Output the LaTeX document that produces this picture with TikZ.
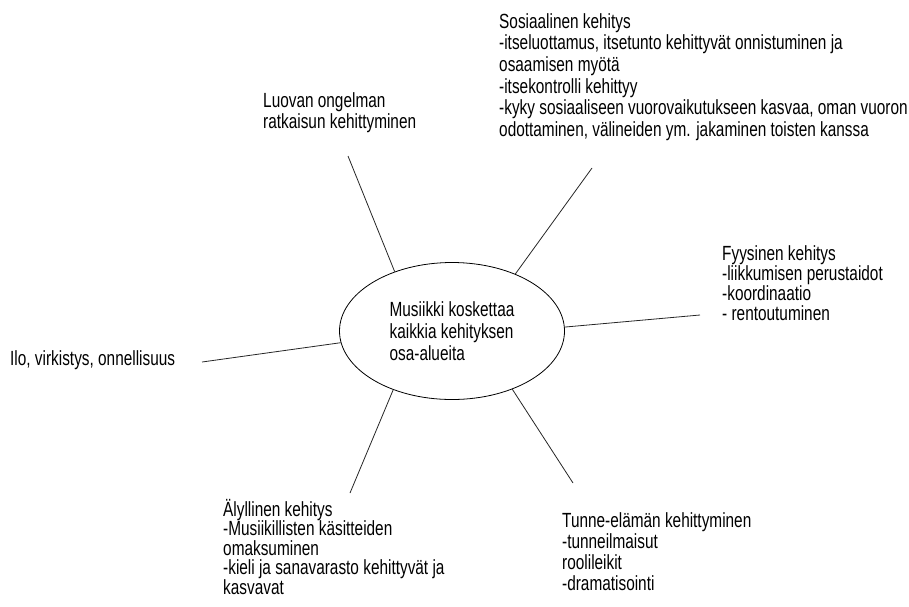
\documentclass[tikz,border=0pt]{standalone}
\usepackage{fontspec}
\setmainfont{Liberation Sans}[FakeStretch=0.75]
\usetikzlibrary{shapes.geometric}

\tikzset{
	txt/.style={anchor=base west, align=left, inner sep=0pt, font=\fontsize{20.5}{21}\selectfont},
	spoke/.style={line width=.8pt, black!85}
}

\begin{document}
\begin{tikzpicture}[x=1pt,y=-1pt]
	\useasboundingbox (0,0) rectangle (909,606);
	
	\node[draw, line width=.8pt, ellipse, minimum width=225pt, minimum height=137pt, align=left, inner sep=0pt, font=\fontsize{20.5}{22}\selectfont] (musiikki) at (452,331) {Musiikki koskettaa\\kaikkia kehityksen\\osa-alueita};
	
	\node[txt] (luova) at (263,128) {Luovan ongelman\\ratkaisun kehittyminen};
	\node[txt, font=\fontsize{20.5}{21.7}\selectfont] (sosiaalinen) at (499,136.5) {Sosiaalinen kehitys\\-itseluottamus, itsetunto kehittyvät onnistuminen ja\\osaamisen myötä\\-itsekontrolli kehittyy\\-kyky sosiaaliseen vuorovaikutukseen kasvaa, oman vuoron\\odottaminen, välineiden ym. jakaminen toisten kanssa};
	\node[txt, font=\fontsize{20.5}{20}\selectfont] (fyysinen) at (722,320) {Fyysinen kehitys\\-liikkumisen perustaidot\\-koordinaatio\\- rentoutuminen};
	\node[txt] (ilo) at (10,365) {Ilo, virkistys, onnellisuus};
	\node[txt, font=\fontsize{20.5}{19.5}\selectfont] (alyllinen) at (223,594) {Älyllinen kehitys\\-Musiikillisten käsitteiden\\omaksuminen\\-kieli ja sanavarasto kehittyvät ja\\kasvavat};
	\node[txt] (tunne) at (562,590) {Tunne-elämän kehittyminen\\-tunneilmaisut\\roolileikit\\-dramatisointi};
	
	\coordinate (luovaend) at (348,156);
	\coordinate (sosend) at (592,168);
	\coordinate (fyysend) at (700,315);
	\coordinate (iloend) at (202,362);
	\coordinate (alyend) at (350,493);
	\coordinate (tunneend) at (573,483);
	
	\draw[spoke] (musiikki.134)--(luovaend);
	\draw[spoke] (musiikki.42)--(sosend);
	\draw[spoke] (musiikki.2)--(fyysend);
	\draw[spoke] (musiikki.186)--(iloend);
	\draw[spoke] (musiikki.225)--(alyend);
	\draw[spoke] (musiikki.316)--(tunneend);
\end{tikzpicture}
\end{document}
